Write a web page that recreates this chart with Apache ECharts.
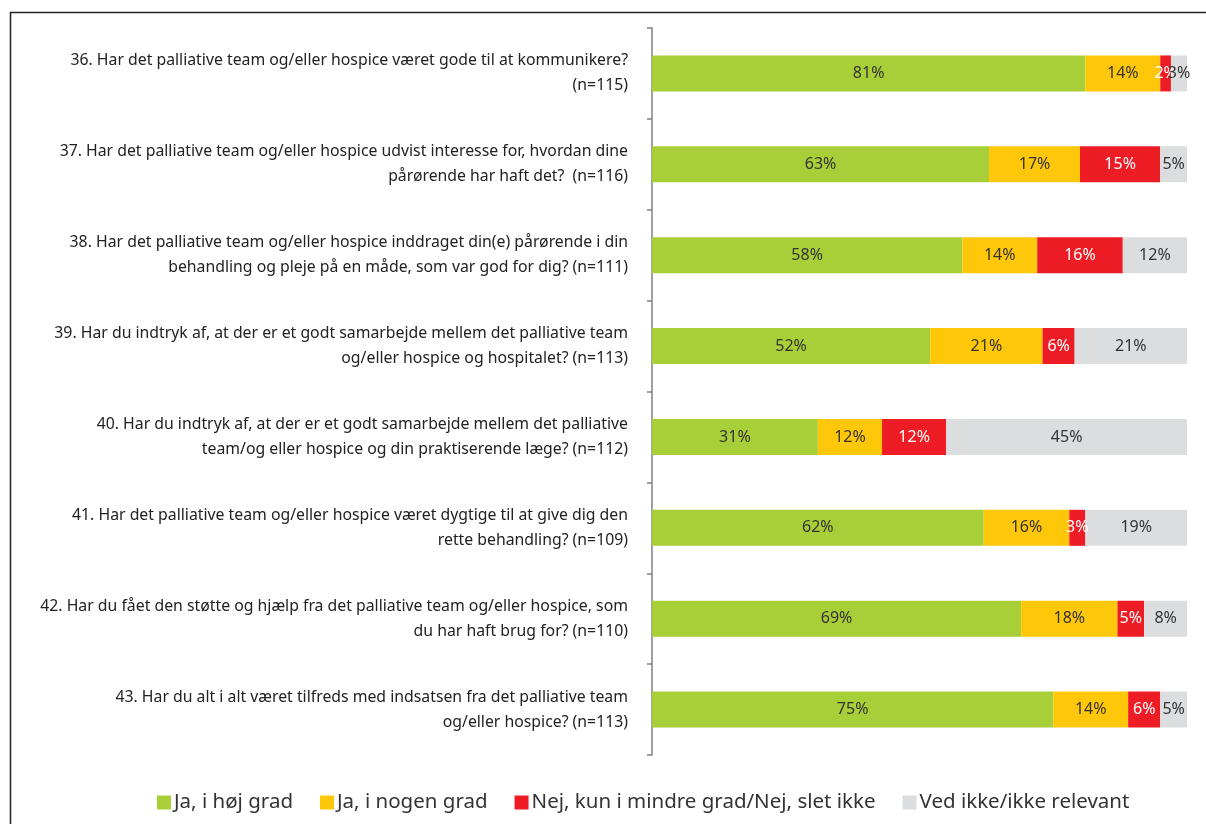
<!DOCTYPE html>
<html>
<head>
<meta charset="utf-8">
<script src="https://cdn.jsdelivr.net/npm/echarts@6/dist/echarts.min.js"></script>
<style>
  html, body { margin: 0; padding: 0; background: #fff; }
  #chart { width: 1206px; height: 824px; }
</style>
</head>
<body>
<div id="chart"></div>
<script>
// spørgsmål (kategorier)
const questions = [
  '36. Har det palliative team og/eller hospice været gode til at kommunikere?\n(n=115)',
  '37. Har det palliative team og/eller hospice udvist interesse for, hvordan dine\npårørende har haft det?  (n=116)',
  '38. Har det palliative team og/eller hospice inddraget din(e) pårørende i din\nbehandling og pleje på en måde, som var god for dig? (n=111)',
  '39. Har du indtryk af, at der er et godt samarbejde mellem det palliative team\nog/eller hospice og hospitalet? (n=113)',
  '40. Har du indtryk af, at der er et godt samarbejde mellem det palliative\nteam/og eller hospice og din praktiserende læge? (n=112)',
  '41. Har det palliative team og/eller hospice været dygtige til at give dig den\nrette behandling? (n=109)',
  '42. Har du fået den støtte og hjælp fra det palliative team og/eller hospice, som\ndu har haft brug for? (n=110)',
  '43. Har du alt i alt været tilfreds med indsatsen fra det palliative team\nog/eller hospice? (n=113)'
]

// svarkategorier
const answers = ['Ja, i høj grad', 'Ja, i nogen grad', 'Nej, kun i mindre grad/Nej, slet ikke', 'Ved ikke/ikke relevant']

// procentandele pr. svar
const hoej = [81, 63, 58, 52, 31, 62, 69, 75]
const nogen = [14, 17, 14, 21, 12, 16, 18, 14]
const nej = [2, 15, 16, 6, 12, 3, 5, 6]
const vedIkke = [3, 5, 12, 21, 45, 19, 8, 5]

const colors = ['#A8CE38', '#FFC709', '#EE1C25', '#DCDDDF']
const labelColors = ['#333', '#333', '#fff', '#333']
const seriesData = [hoej, nogen, nej, vedIkke]

const font = '"Noto Sans", "Liberation Sans", sans-serif'

const myChart = echarts.init(document.getElementById('chart'))

const option = {
  animation: false,
  textStyle: { fontFamily: font },
  graphic: [
    {
      // ramme om figuren
      type: 'rect',
      shape: { x: 10.5, y: 12.5, width: 1300, height: 900 },
      style: { fill: 'none', stroke: '#222', lineWidth: 1.5 },
      silent: true
    }
  ],
  grid: {
    left: 652,
    right: 19,
    top: 28,
    bottom: 69
  },
  legend: {
    bottom: 6,
    left: 152,
    itemWidth: 14,
    itemHeight: 14,
    itemGap: 27,
    icon: 'rect',
    textStyle: { fontSize: 20.5, color: '#333', fontFamily: font, padding: [0, 0, 0, -2] },
    data: answers
  },
  xAxis: {
    type: 'value',
    min: 0,
    max: 100,
    show: false
  },
  yAxis: {
    type: 'category',
    inverse: true,
    data: questions,
    axisLine: { show: true, lineStyle: { color: '#808080', width: 1.5 } },
    axisTick: { show: true, length: 5, lineStyle: { color: '#808080', width: 1.5 } },
    axisLabel: {
      margin: 24,
      fontSize: 15.8,
      lineHeight: 25,
      color: '#222',
      align: 'right',
      fontFamily: font
    }
  },
  series: seriesData.map((data, i) => ({
    name: answers[i],
    type: 'bar',
    stack: 'total',
    barWidth: 36,
    itemStyle: { color: colors[i] },
    label: {
      show: true,
      position: 'inside',
      formatter: '{c}%',
      color: labelColors[i],
      fontSize: 16,
      fontFamily: font
    },
    data
  }))
}

myChart.setOption(option)
</script>
</body>
</html>
